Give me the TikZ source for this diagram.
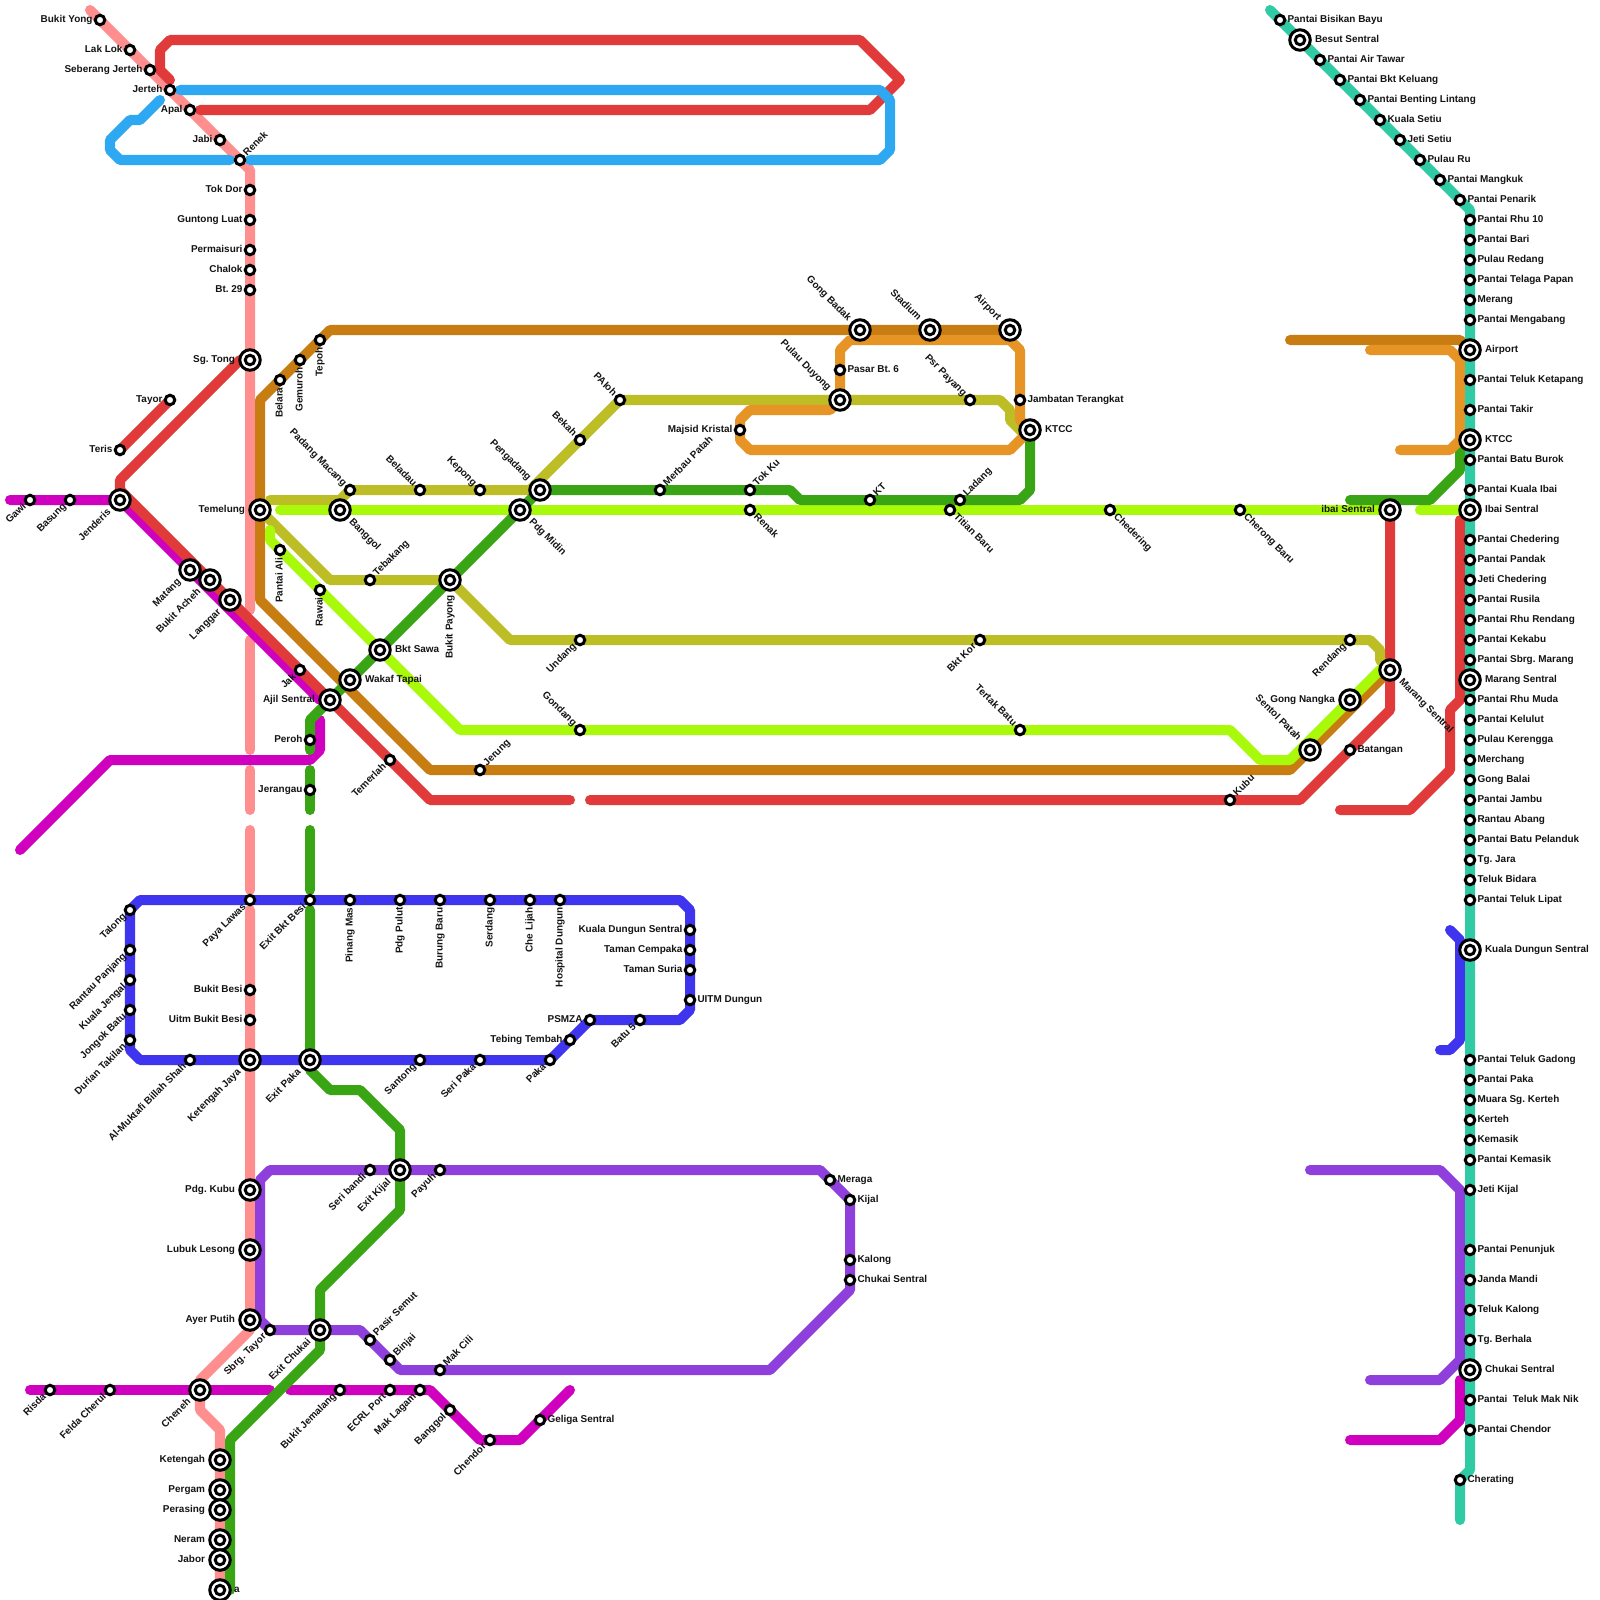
\documentclass[tikz,border=0pt]{standalone}
\usepackage{fontspec}
\setmainfont{Liberation Sans}
\usetikzlibrary{backgrounds}
\definecolor{lnpink}{HTML}{FF8F8F}
\definecolor{lnred}{HTML}{E03A3A}
\definecolor{lnblue}{HTML}{2EA8F0}
\definecolor{lnindigo}{HTML}{4035EE}
\definecolor{lnbrown}{HTML}{C87D12}
\definecolor{lnorange}{HTML}{E59425}
\definecolor{lnolive}{HTML}{BDBD26}
\definecolor{lnlime}{HTML}{A8F90A}
\definecolor{lngreen}{HTML}{3AA514}
\definecolor{lnmag}{HTML}{CF00BE}
\definecolor{lnpurple}{HTML}{8E3FDC}
\definecolor{lnteal}{HTML}{30CBA4}
\tikzset{
  route/.style={draw=#1,line width=0.1cm,line cap=round,line join=round},
  stsmall/.style={circle,draw=black,fill=white,line width=0.03cm,minimum size=0.095cm,inner sep=0pt,outer sep=0pt},
  stbig/.style={circle,draw=black,fill=white,line width=0.03cm,minimum size=0.205cm,inner sep=0pt,outer sep=0pt},
  lbl/.style={font=\bfseries\fontsize{2.83pt}{3.2pt}\selectfont\frenchspacing,text=black!92,text height=2.1pt,text depth=0.6pt,inner ysep=0pt,outer sep=0pt},
  lw/.style={lbl,anchor=east},
  le/.style={lbl,anchor=west},
  lne/.style={lbl,anchor=west,rotate=45},
  lse/.style={lbl,anchor=west,rotate=-45},
  lsw/.style={lbl,anchor=east,rotate=45},
  lnw/.style={lbl,anchor=east,rotate=-45},
  ls/.style={lbl,anchor=east,rotate=90},
}
\newcommand{\stn}[5]{\node[stsmall] (#1) at (#2,#3) {};\node[#4,inner xsep=0.075cm] (#1-t) at (#1.center) {#5};}
\newcommand{\xch}[5]{\node[stbig] (#1) at (#2,#3) {};\node[stsmall] (#1-i) at (#1.center) {};\node[#4,inner xsep=0.15cm] (#1-t) at (#1.center) {#5};}
\begin{document}
\begin{tikzpicture}[x=0.01cm,y=-0.01cm]
\useasboundingbox (0,0) rectangle (1600,1600);
% pink line stations
\stn{bukityong}{100}{20}{lw}{Bukit Yong}
\stn{laklok}{130}{50}{lw}{Lak Lok}
\stn{sebjerteh}{150}{70}{lw}{Seberang Jerteh}
\stn{jerteh}{170}{90}{lw}{Jerteh}
\stn{apal}{190}{110}{lw}{Apal}
\stn{jabi}{220}{140}{lw}{Jabi}
\stn{renek}{240}{160}{lne}{Renek}
\stn{tokdor}{250}{190}{lw}{Tok Dor}
\stn{guntong}{250}{220}{lw}{Guntong Luat}
\stn{permaisuri}{250}{250}{lw}{Permaisuri}
\stn{chalok}{250}{270}{lw}{Chalok}
\stn{bt29}{250}{290}{lw}{Bt. 29}
\xch{sgtong}{250}{360}{lw}{Sg. Tong}
\stn{tayor}{170}{400}{lw}{Tayor}
\stn{teris}{120}{450}{lw}{Teris}
\stn{gawi}{30}{500}{lsw}{Gawi}
\stn{basung}{70}{500}{lsw}{Basung}
\xch{jenderis}{120}{500}{lsw}{Jenderis}
\xch{matang}{190}{570}{lsw}{Matang}
\xch{bukitacheh}{210}{580}{lsw}{Bukit Acheh}
\xch{langgar}{230}{600}{lsw}{Langgar}
\stn{jak}{300}{670}{lsw}{Jak}
\xch{ajil}{330}{700}{lw}{Ajil Sentral}
\stn{peroh}{310}{740}{lw}{Peroh}
\stn{jerangau}{310}{790}{lw}{Jerangau}
\stn{temerlah}{390}{760}{lsw}{Temerlah}
% brown / olive / lime west
\stn{tepoh}{320}{340}{ls}{Tepoh}
\stn{gemuroh}{300}{360}{ls}{Gemuroh}
\stn{belara}{280}{380}{ls}{Belara}
\xch{temelung}{260}{510}{lw}{Temelung}
\stn{padangmacang}{350}{490}{lnw}{Padang Macang}
\stn{beladau}{420}{490}{lnw}{Beladau}
\stn{kepong}{480}{490}{lnw}{Kepong}
\xch{banggol}{340}{510}{lse}{Banggol}
\stn{pantaiali}{280}{550}{ls}{Pantai Ali}
\stn{rawai}{320}{590}{ls}{Rawai}
\stn{tebakang}{370}{580}{lne}{Tebakang}
\xch{bukitpayong}{450}{580}{ls}{Bukit Payong}
\xch{bktsawa}{380}{650}{le}{Bkt Sawa}
\xch{wakaf}{350}{680}{le}{Wakaf Tapai}
\stn{jerung}{480}{770}{lne}{Jerung}
\xch{pengadang}{540}{490}{lnw}{Pengadang}
\xch{pdgmidin}{520}{510}{lse}{Pdg Midin}
\stn{bekah}{580}{440}{lnw}{Bekah}
\stn{paloh}{620}{400}{lnw}{PAloh}
\stn{merbau}{660}{490}{lne}{Merbau Patah}
\stn{tokku}{750}{490}{lne}{Tok Ku}
\stn{renak}{750}{510}{lse}{Renak}
\stn{kt}{870}{500}{lne}{KT}
\stn{ladang}{960}{500}{lne}{Ladang}
\stn{titian}{950}{510}{lse}{Titian Baru}
\stn{chedering}{1110}{510}{lse}{Chedering}
\stn{cherong}{1240}{510}{lse}{Cherong Baru}
\xch{gongbadak}{860}{330}{lnw}{Gong Badak}
\xch{stadium}{930}{330}{lnw}{Stadium}
\xch{airport}{1010}{330}{lnw}{Airport}
\stn{pasarbt}{840}{370}{le}{Pasar Bt. 6}
\xch{duyong}{840}{400}{lnw}{Pulau Duyong}
\stn{psrpayang}{970}{400}{lnw}{Psr Payang}
\stn{jambatan}{1020}{400}{le}{Jambatan Terangkat}
\stn{majsid}{740}{430}{lw}{Majsid Kristal}
\xch{ktcc}{1030}{430}{le}{KTCC}
\stn{undang}{580}{640}{lsw}{Undang}
\stn{bktkor}{980}{640}{lsw}{Bkt Kor}
\stn{rendang}{1350}{640}{lsw}{Rendang}
\stn{gondang}{580}{730}{lnw}{Gondang}
\stn{tertak}{1020}{730}{lnw}{Tertak Batu}
\xch{gongnangka}{1350}{700}{lw}{Gong Nangka}
\xch{sentol}{1310}{750}{lnw}{Sentol Patah}
\xch{marangw}{1390}{670}{lse}{Marang Sentral}
\stn{batangan}{1350}{750}{le}{Batangan}
\stn{kubu}{1230}{800}{lne}{Kubu}
\xch{ibaiw}{1390}{510}{lw}{ibai Sentral}
% indigo loop
\stn{talong}{130}{910}{lsw}{Talong}
\stn{rantau}{130}{950}{lsw}{Rantau Panjang}
\stn{kualajengal}{130}{980}{lsw}{Kuala Jengal}
\stn{jongok}{130}{1010}{lsw}{Jongok Batu}
\stn{durian}{130}{1040}{lsw}{Durian Takilan}
\stn{almuktafi}{190}{1060}{lsw}{Al-Muktafi Billah Shah}
\stn{payalawas}{250}{900}{lsw}{Paya Lawas}
\stn{bukitbesi}{250}{990}{lw}{Bukit Besi}
\stn{uitmbesi}{250}{1020}{lw}{Uitm Bukit Besi}
\xch{ketengahjaya}{250}{1060}{lsw}{Ketengah Jaya}
\stn{exitbesi}{310}{900}{lsw}{Exit Bkt Besi}
\xch{exitpaka}{310}{1060}{lsw}{Exit Paka}
\stn{pinangmas}{350}{900}{ls}{Pinang Mas}
\stn{pdgpulut}{400}{900}{ls}{Pdg Pulut}
\stn{burungbaru}{440}{900}{ls}{Burung Baru}
\stn{serdang}{490}{900}{ls}{Serdang}
\stn{chelijah}{530}{900}{ls}{Che Lijah}
\stn{hospdungun}{560}{900}{ls}{Hospital Dungun}
\stn{kdsw}{690}{930}{lw}{Kuala Dungun Sentral}
\stn{tamancempaka}{690}{950}{lw}{Taman Cempaka}
\stn{tamansuria}{690}{970}{lw}{Taman Suria}
\stn{uitmdungun}{690}{1000}{le}{UITM Dungun}
\stn{psmza}{590}{1020}{lw}{PSMZA}
\stn{batu5}{640}{1020}{lsw}{Batu 5}
\stn{tebing}{570}{1040}{lw}{Tebing Tembah}
\stn{paka}{550}{1060}{lsw}{Paka}
\stn{seripaka}{480}{1060}{lsw}{Seri Paka}
\stn{santong}{420}{1060}{lsw}{Santong}
% purple / south
\stn{seribandi}{370}{1170}{lsw}{Seri bandi}
\xch{exitkijal}{400}{1170}{lsw}{Exit Kijal}
\stn{payuh}{440}{1170}{lsw}{Payuh}
\stn{meraga}{830}{1180}{le}{Meraga}
\stn{kijal}{850}{1200}{le}{Kijal}
\stn{kalong}{850}{1260}{le}{Kalong}
\stn{chukaiw}{850}{1280}{le}{Chukai Sentral}
\xch{pdgkubu}{250}{1190}{lw}{Pdg. Kubu}
\xch{lubuk}{250}{1250}{lw}{Lubuk Lesong}
\xch{ayerputih}{250}{1320}{lw}{Ayer Putih}
\stn{sbrgtayor}{270}{1330}{lsw}{Sbrg. Tayor}
\xch{exitchukai}{320}{1330}{lsw}{Exit Chukai}
\stn{pasirsemut}{370}{1340}{lne}{Pasir Semut}
\stn{binjai}{390}{1360}{lne}{Binjai}
\stn{makcili}{440}{1370}{lne}{Mak Cili}
\stn{risda}{50}{1390}{lsw}{Risda}
\stn{felda}{110}{1390}{lsw}{Felda Cherul}
\xch{cheneh}{200}{1390}{lsw}{Cheneh}
\stn{jemalang}{340}{1390}{lsw}{Bukit Jemalang}
\stn{ecrl}{390}{1390}{lsw}{ECRL Port}
\stn{maklagam}{420}{1390}{lsw}{Mak Lagam}
\stn{banggols}{450}{1410}{lsw}{Banggol}
\stn{chendor}{490}{1440}{lsw}{Chendor}
\stn{geliga}{540}{1420}{le}{Geliga Sentral}
\xch{ketengah}{220}{1460}{lw}{Ketengah}
\xch{pergam}{220}{1490}{lw}{Pergam}
\xch{perasing}{220}{1510}{lw}{Perasing}
\xch{neram}{220}{1540}{lw}{Neram}
\xch{jabor}{220}{1560}{lw}{Jabor}
\xch{lasts}{220}{1590}{le}{}
\node[lbl,anchor=west,inner xsep=0pt] (lasts-a) at (234,1590) {a};
% teal coast
\stn{t01}{1280}{20}{le}{Pantai Bisikan Bayu}
\xch{t02}{1300}{40}{le}{Besut Sentral}
\stn{t03}{1320}{60}{le}{Pantai Air Tawar}
\stn{t04}{1340}{80}{le}{Pantai Bkt Keluang}
\stn{t05}{1360}{100}{le}{Pantai Benting Lintang}
\stn{t06}{1380}{120}{le}{Kuala Setiu}
\stn{t07}{1400}{140}{le}{Jeti Setiu}
\stn{t08}{1420}{160}{le}{Pulau Ru}
\stn{t09}{1440}{180}{le}{Pantai Mangkuk}
\stn{t10}{1460}{200}{le}{Pantai Penarik}
\stn{t11}{1470}{220}{le}{Pantai Rhu 10}
\stn{t12}{1470}{240}{le}{Pantai Bari}
\stn{t13}{1470}{260}{le}{Pulau Redang}
\stn{t14}{1470}{280}{le}{Pantai Telaga Papan}
\stn{t15}{1470}{300}{le}{Merang}
\stn{t16}{1470}{320}{le}{Pantai Mengabang}
\xch{t17}{1470}{350}{le}{Airport}
\stn{t18}{1470}{380}{le}{Pantai Teluk Ketapang}
\stn{t19}{1470}{410}{le}{Pantai Takir}
\xch{t20}{1470}{440}{le}{KTCC}
\stn{t21}{1470}{460}{le}{Pantai Batu Burok}
\stn{t22}{1470}{490}{le}{Pantai Kuala Ibai}
\xch{t23}{1470}{510}{le}{Ibai Sentral}
\stn{t24}{1470}{540}{le}{Pantai Chedering}
\stn{t25}{1470}{560}{le}{Pantai Pandak}
\stn{t26}{1470}{580}{le}{Jeti Chedering}
\stn{t27}{1470}{600}{le}{Pantai Rusila}
\stn{t28}{1470}{620}{le}{Pantai Rhu Rendang}
\stn{t29}{1470}{640}{le}{Pantai Kekabu}
\stn{t30}{1470}{660}{le}{Pantai Sbrg. Marang}
\xch{t31}{1470}{680}{le}{Marang Sentral}
\stn{t32}{1470}{700}{le}{Pantai Rhu Muda}
\stn{t33}{1470}{720}{le}{Pantai Kelulut}
\stn{t34}{1470}{740}{le}{Pulau Kerengga}
\stn{t35}{1470}{760}{le}{Merchang}
\stn{t36}{1470}{780}{le}{Gong Balai}
\stn{t37}{1470}{800}{le}{Pantai Jambu}
\stn{t38}{1470}{820}{le}{Rantau Abang}
\stn{t39}{1470}{840}{le}{Pantai Batu Pelanduk}
\stn{t40}{1470}{860}{le}{Tg. Jara}
\stn{t41}{1470}{880}{le}{Teluk Bidara}
\stn{t42}{1470}{900}{le}{Pantai Teluk Lipat}
\xch{t43}{1470}{950}{le}{Kuala Dungun Sentral}
\stn{t44}{1470}{1060}{le}{Pantai Teluk Gadong}
\stn{t45}{1470}{1080}{le}{Pantai Paka}
\stn{t46}{1470}{1100}{le}{Muara Sg. Kerteh}
\stn{t47}{1470}{1120}{le}{Kerteh}
\stn{t48}{1470}{1140}{le}{Kemasik}
\stn{t49}{1470}{1160}{le}{Pantai Kemasik}
\stn{t50}{1470}{1190}{le}{Jeti Kijal}
\stn{t51}{1470}{1250}{le}{Pantai Penunjuk}
\stn{t52}{1470}{1280}{le}{Janda Mandi}
\stn{t53}{1470}{1310}{le}{Teluk Kalong}
\stn{t54}{1470}{1340}{le}{Tg. Berhala}
\xch{t55}{1470}{1370}{le}{Chukai Sentral}
\stn{t56}{1470}{1400}{le}{Pantai\ \ Teluk Mak Nik}
\stn{t57}{1470}{1430}{le}{Pantai Chendor}
\stn{t58}{1460}{1480}{le}{Cherating}
% routes behind the stations
\begin{scope}[on background layer]
\fill[white] (0,0) rectangle (1600,1600);
% pink
\draw[route=lnpink] (90,10) -- (renek.center) -- (250,170) -- (250,610);
\draw[route=lnpink] (250,640) -- (250,750);
\draw[route=lnpink] (250,770) -- (250,810);
\draw[route=lnpink] (250,830) -- (250,890);
\draw[route=lnpink] (250,910) -- (ayerputih.center) -- (250,1330) -- (200,1380) -- (200,1410) -- (220,1430) -- (220,1600);
% magenta
\draw[route=lnmag] (10,500) -- (jenderis.center) -- (320,700);
\draw[route=lnmag] (20,850) -- (110,760) -- (310,760) -- (320,750) -- (320,720);
\draw[route=lnmag] (30,1390) -- (270,1390);
\draw[route=lnmag] (290,1390) -- (430,1390) -- (480,1440) -- (520,1440) -- (570,1390);
\draw[route=lnmag] (1350,1440) -- (1440,1440) -- (1460,1420) -- (1460,1380);
% red
\draw[route=lnred] (170,80) -- (160,70) -- (160,50) -- (170,40) -- (860,40) -- (900,80) -- (870,110) -- (200,110);
\draw[route=lnred] (teris.center) -- (tayor.center);
\draw[route=lnred] (240,360) -- (120,480) -- (120,490) -- (430,800) -- (570,800);
\draw[route=lnred] (590,800) -- (1300,800) -- (1390,710) -- (ibaiw.center);
\draw[route=lnred] (1340,810) -- (1410,810) -- (1450,770) -- (1450,710) -- (1460,700) -- (1460,520);
% light blue
\draw[route=lnblue] (160,100) -- (140,120) -- (130,120) -- (110,140) -- (110,150) -- (120,160) -- (230,160);
\draw[route=lnblue] (250,160) -- (880,160) -- (890,150) -- (890,100) -- (880,90) -- (180,90);
% brown
\draw[route=lnbrown] (temelung.center) -- (260,400) -- (330,330) -- (airport.center);
\draw[route=lnbrown] (temelung.center) -- (260,600) -- (430,770) -- (1290,770) -- (marangw.center);
\draw[route=lnbrown] (1290,340) -- (1460,340) -- (t17.center);
% olive
\draw[route=lnolive] (270,500) -- (340,500) -- (350,490) -- (pengadang.center);
\draw[route=lnolive] (530,490) -- (paloh.center) -- (1000,400) -- (1010,410) -- (1010,420) -- (1030,440);
\draw[route=lnolive] (temelung.center) -- (330,580) -- (bukitpayong.center) -- (510,640) -- (1370,640) -- (1380,650) -- (1380,660) -- (marangw.center);
% lime
\draw[route=lnlime] (280,510) -- (ibaiw.center);
\draw[route=lnlime] (1420,510) -- (t23.center);
\draw[route=lnlime] (270,530) -- (270,540) -- (460,730) -- (1230,730) -- (1260,760) -- (1290,760) -- (1380,670);
% indigo
\draw[route=lnindigo] (130,910) -- (140,900) -- (680,900) -- (690,910) -- (690,1010) -- (680,1020) -- (590,1020) -- (550,1060) -- (140,1060) -- (130,1050) -- cycle;
\draw[route=lnindigo] (1450,930) -- (1460,940) -- (1460,1040) -- (1450,1050) -- (1440,1050);
% green
\draw[route=lngreen] (310,750) -- (310,720) -- (ajil.center) -- (pengadang.center) -- (790,490) -- (800,500) -- (1020,500) -- (1030,490) -- (ktcc.center);
\draw[route=lngreen] (310,770) -- (310,810);
\draw[route=lngreen] (310,830) -- (310,890);
\draw[route=lngreen] (310,910) -- (exitpaka.center) -- (310,1070) -- (330,1090) -- (360,1090) -- (400,1130) -- (400,1210) -- (320,1290) -- (320,1350) -- (230,1440) -- (230,1590);
\draw[route=lngreen] (1350,500) -- (1430,500) -- (1460,470) -- (1460,450) -- (t20.center);
% orange
\draw[route=lnorange] (duyong.center) -- (840,350) -- (850,340) -- (1010,340) -- (1020,350) -- (1020,420) -- (ktcc.center) -- (1010,450) -- (750,450) -- (740,440) -- (740,420) -- (750,410) -- (830,410) -- (duyong.center);
\draw[route=lnorange] (1370,350) -- (1450,350) -- (1460,360) -- (1460,440) -- (1450,450) -- (1400,450);
% purple
\draw[route=lnpurple] (270,1330) -- (260,1320) -- (260,1180) -- (270,1170) -- (820,1170) -- (850,1200) -- (850,1290) -- (770,1370) -- (400,1370) -- (360,1330) -- (sbrgtayor.center);
\draw[route=lnpurple] (1310,1170) -- (1440,1170) -- (1460,1190) -- (1460,1360) -- (1440,1380) -- (1370,1380);
% teal
\draw[route=lnteal] (1270,10) -- (1470,210) -- (1470,1470) -- (1460,1480) -- (1460,1520);
\end{scope}
\end{tikzpicture}
\end{document}
